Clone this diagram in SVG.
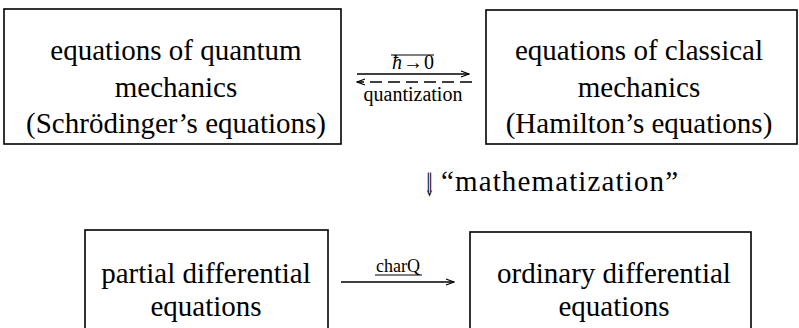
<svg xmlns="http://www.w3.org/2000/svg" width="799" height="328" viewBox="0 0 799 328">
<defs>
<marker id="ah" markerWidth="10" markerHeight="8" refX="9" refY="4" orient="auto" markerUnits="userSpaceOnUse">
<path d="M1,1 L9,4 L1,7" fill="none" stroke="#000" stroke-width="1.3"/>
</marker>
</defs>
<rect width="799" height="328" fill="#fff"/>
<g id="quantum" text-anchor="middle" font-family="Liberation Serif" font-size="29">
<rect x="4" y="9" width="337" height="135" fill="none" stroke="#000" stroke-width="1.6"/>
<text x="176" y="60">equations of quantum</text>
<text x="176" y="97">mechanics</text>
<text x="176" y="133">(Schr&#246;dinger&#8217;s equations)</text>
</g>
<g id="classical" text-anchor="middle" font-family="Liberation Serif" font-size="29">
<rect x="486" y="10" width="311" height="134" fill="none" stroke="#000" stroke-width="1.6"/>
<text x="639" y="60">equations of classical</text>
<text x="639" y="97">mechanics</text>
<text x="639" y="133">(Hamilton&#8217;s equations)</text>
</g>
<g id="pde" text-anchor="middle" font-family="Liberation Serif" font-size="29">
<rect x="85" y="230" width="243" height="110" fill="none" stroke="#000" stroke-width="1.6"/>
<text x="206" y="283">partial differential</text>
<text x="206" y="316">equations</text>
</g>
<g id="ode" text-anchor="middle" font-family="Liberation Serif" font-size="29">
<rect x="470" y="232" width="281" height="108" fill="none" stroke="#000" stroke-width="1.6"/>
<text x="614" y="283">ordinary differential</text>
<text x="614" y="316">equations</text>
</g>
<g id="connectors" stroke="#000" stroke-width="1.3" fill="none">
<line x1="357" y1="74" x2="469" y2="74" marker-end="url(#ah)"/>
<line x1="472" y1="82" x2="357" y2="82" stroke-dasharray="12,6" marker-end="url(#ah)"/>
<line x1="391" y1="55" x2="434" y2="55" stroke-width="1.2"/>
<line x1="341" y1="282" x2="454" y2="282" marker-end="url(#ah)"/>
<line x1="375" y1="275" x2="422" y2="275" stroke-width="1.2"/>
</g>
<g id="labels" font-family="Liberation Serif" fill="#000">
<text x="413" y="69" font-size="20" text-anchor="middle" textLength="42"><tspan font-style="italic">&#295;</tspan>&#8594;0</text>
<text x="413" y="101" font-size="20" text-anchor="middle">quantization</text>
<text transform="translate(424,196) scale(0.5,1.25)" font-size="26" font-family="DejaVu Serif">&#8659;</text>
<text x="441" y="191" font-size="29" textLength="237">&#8220;mathematization&#8221;</text>
<text x="398" y="272" font-size="18" text-anchor="middle">charQ</text>
</g>
</svg>
